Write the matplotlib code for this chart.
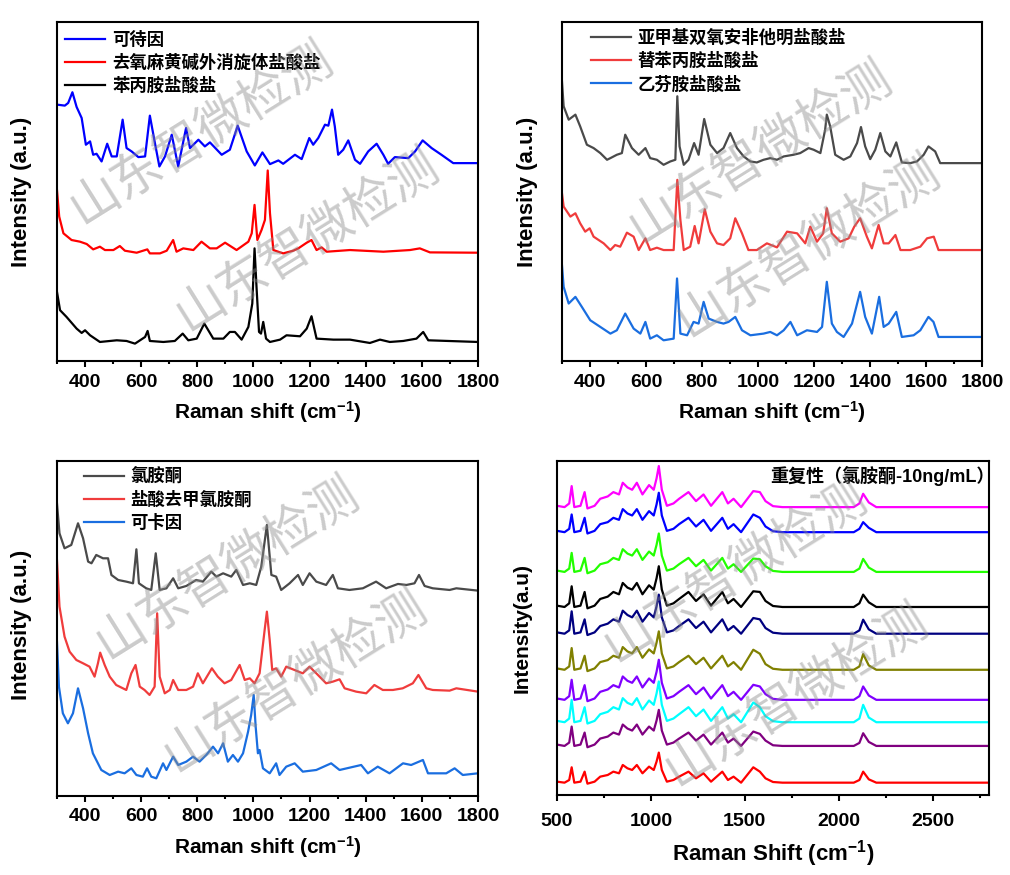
import matplotlib
matplotlib.use('Agg')
import matplotlib.pyplot as plt
from matplotlib.ticker import MultipleLocator

plt.rcParams['font.family'] = ['Liberation Sans', 'Noto Sans CJK SC', 'DejaVu Sans']
plt.rcParams['mathtext.fontset'] = 'custom'
plt.rcParams['mathtext.rm'] = 'Liberation Sans:bold'
plt.rcParams['mathtext.bf'] = 'Liberation Sans:bold'
plt.rcParams['mathtext.default'] = 'bf'

# ---------------- panel 1 data (a.u., offset stacked) ----------------
codeine_x = [300, 328, 340, 355, 370, 388, 403, 418, 429, 441, 459, 479, 495, 513, 534, 548, 566, 590, 614, 631,
             649, 665, 685, 709, 732, 760, 774, 804, 827, 845, 887, 916, 944, 976, 1005, 1032, 1059, 1089, 1106, 1148,
             1172, 1199, 1213, 1231, 1255, 1267, 1280, 1290, 1302, 1320, 1338, 1362, 1380, 1409, 1439, 1463, 1480,
             1504, 1552, 1576, 1603, 1635, 1670, 1712, 1800]
codeine_y = [767, 764, 772, 804, 760, 727, 647, 657, 617, 620, 597, 650, 612, 612, 722, 637, 627, 610, 612, 734,
             652, 582, 612, 677, 582, 697, 637, 662, 642, 654, 617, 632, 704, 627, 585, 624, 589, 600, 590, 617,
             604, 667, 647, 667, 707, 704, 752, 702, 617, 632, 660, 602, 590, 627, 650, 617, 590,
             610, 607, 627, 660, 637, 617, 592, 592]

meth_x = [300, 308, 323, 352, 382, 406, 429, 453, 471, 501, 524, 542, 584, 622, 631, 667, 691, 714, 726, 750,
          786, 815, 845, 869, 899, 940, 982, 994, 1004, 1014, 1029, 1041, 1051, 1059, 1071, 1106, 1142, 1160, 1190,
          1207, 1225, 1243, 1261, 1344, 1463, 1558, 1593, 1629, 1800]
meth_y = [512, 432, 382, 362, 357, 350, 334, 342, 332, 332, 344, 330, 324, 334, 322, 322, 330, 362, 327, 337,
          332, 357, 337, 337, 354, 332, 357, 382, 467, 362, 392, 422, 570, 442, 332, 322, 330, 337, 354,
          362, 332, 340, 327, 332, 327, 332, 337, 325, 324]

amph_x = [300, 311, 334, 370, 388, 400, 418, 453, 513, 548, 578, 614, 623, 631, 679, 720, 748, 768, 798, 825,
          857, 893, 916, 934, 958, 982, 996, 1004, 1011, 1020, 1027, 1035, 1045, 1059, 1095, 1118, 1166, 1190, 1207,
          1225, 1285, 1344, 1415, 1451, 1486, 1534, 1581, 1605, 1623, 1800]
amph_y = [207, 152, 132, 97, 84, 92, 77, 57, 62, 60, 52, 72, 90, 60, 57, 60, 82, 62, 67, 112,
          67, 67, 87, 87, 64, 102, 172, 337, 222, 87, 82, 117, 67, 57, 64, 77, 74, 97, 134,
          67, 64, 64, 54, 64, 57, 60, 67, 87, 62, 57]

# ---------------- panel 2 data ----------------
mdma_x = [300, 306, 324, 348, 365, 389, 413, 437, 461, 473, 496, 514, 526, 550, 574, 598, 615, 639, 663, 687,
          705, 712, 720, 735, 752, 772, 788, 808, 830, 854, 877, 901, 925, 949, 973, 996, 1020, 1044, 1068, 1092,
          1127, 1151, 1181, 1199, 1223, 1240, 1246, 1258, 1276, 1306, 1330, 1354, 1368, 1383, 1401, 1419, 1437,
          1455, 1473, 1494, 1514, 1544, 1568, 1592, 1609, 1633, 1651, 1800]
mdma_y = [837, 762, 722, 737, 702, 647, 637, 622, 602, 607, 617, 622, 677, 637, 617, 637, 607, 602, 587, 597,
          602, 792, 642, 587, 602, 652, 617, 724, 647, 622, 637, 682, 637, 612, 597, 594, 602, 607, 602, 612,
          617, 622, 637, 632, 622, 692, 737, 702, 617, 602, 612, 652, 700, 642, 604, 632, 682,
          627, 612, 654, 594, 592, 597, 617, 642, 627, 592, 592]

mda_x = [300, 306, 330, 348, 365, 383, 399, 413, 449, 473, 490, 508, 532, 556, 574, 598, 615, 639, 663, 699,
         712, 723, 735, 758, 774, 788, 810, 830, 854, 877, 901, 919, 943, 966, 996, 1032, 1068, 1104, 1140, 1169,
         1187, 1211, 1233, 1246, 1264, 1294, 1324, 1344, 1365, 1389, 1407, 1431, 1449, 1467, 1491, 1509, 1544,
         1580, 1604, 1628, 1645, 1800]
mda_y = [502, 462, 432, 442, 412, 387, 397, 372, 352, 332, 347, 342, 384, 372, 332, 367, 332, 339, 332, 332,
         542, 422, 332, 342, 404, 352, 454, 387, 352, 347, 367, 427, 382, 332, 332, 352, 340, 387, 382, 352,
         402, 357, 382, 457, 382, 357, 367, 402, 427, 372, 337, 407, 352, 352, 377, 332, 332,
         342, 367, 372, 332, 332]

mde_x = [300, 306, 324, 348, 371, 401, 437, 473, 496, 526, 556, 580, 598, 615, 639, 663, 699, 711, 723, 747,
         770, 788, 806, 824, 854, 877, 895, 919, 943, 973, 1020, 1044, 1068, 1092, 1116, 1140, 1175, 1211, 1229,
         1246, 1264, 1282, 1306, 1336, 1365, 1383, 1407, 1433, 1449, 1467, 1494, 1514, 1556, 1580, 1609, 1627,
         1645, 1800]
mde_y = [287, 222, 172, 192, 162, 122, 102, 82, 92, 142, 97, 82, 117, 67, 77, 62, 67, 247, 82, 77,
         117, 112, 177, 127, 117, 112, 117, 132, 92, 77, 82, 87, 77, 92, 117, 77, 92, 87, 102,
         237, 112, 87, 72, 112, 207, 132, 82, 192, 102, 112, 147, 72, 77, 92, 132, 117, 72, 72]

# ---------------- panel 3 data ----------------
ket_x = [300, 309, 327, 351, 375, 393, 411, 423, 440, 464, 482, 494, 518, 547, 571, 583, 592, 618, 636, 652,
         666, 690, 714, 732, 761, 796, 820, 850, 868, 892, 921, 939, 963, 987, 1010, 1028, 1048, 1064, 1081, 1099,
         1129, 1159, 1176, 1200, 1224, 1259, 1283, 1301, 1342, 1390, 1437, 1473, 1515, 1545, 1574, 1590, 1610,
         1639, 1699, 1723, 1800]
ket_y = [878, 788, 743, 753, 818, 773, 703, 698, 723, 713, 713, 663, 648, 643, 638, 740, 638, 623, 618, 728,
         618, 623, 653, 623, 630, 648, 643, 673, 658, 668, 658, 678, 633, 638, 633, 688, 813, 663, 658, 618,
         638, 663, 633, 668, 643, 633, 663, 623, 618, 623, 643, 623, 636, 633, 638, 663, 630,
         623, 618, 623, 616]

nket_x = [300, 309, 327, 345, 369, 393, 416, 434, 446, 454, 470, 488, 511, 547, 565, 580, 595, 612, 630, 648,
          657, 666, 684, 702, 714, 732, 761, 785, 802, 820, 852, 873, 897, 921, 951, 969, 987, 1004, 1022, 1040,
          1048, 1058, 1067, 1081, 1099, 1117, 1152, 1176, 1200, 1224, 1259, 1283, 1307, 1325, 1366, 1402, 1431,
          1461, 1497, 1532, 1568, 1588, 1616, 1639, 1699, 1723, 1800]
nket_y = [708, 568, 478, 433, 408, 398, 388, 358, 398, 430, 393, 358, 333, 318, 368, 393, 328, 318, 303, 328,
          548, 358, 308, 318, 348, 318, 318, 328, 368, 338, 383, 358, 338, 348, 393, 348, 353, 338, 368, 498,
          553, 468, 378, 383, 358, 388, 376, 368, 388, 368, 338, 343, 350, 323, 313, 308, 333,
          318, 318, 323, 338, 363, 323, 318, 316, 323, 313]

coc_x = [300, 307, 321, 339, 357, 375, 393, 411, 428, 458, 488, 518, 541, 565, 583, 606, 621, 636, 654, 678,
         690, 714, 732, 761, 785, 808, 832, 856, 874, 892, 909, 927, 945, 963, 981, 992, 1001, 1008, 1016, 1022,
         1034, 1058, 1081, 1093, 1117, 1147, 1176, 1224, 1277, 1307, 1384, 1408, 1443, 1485, 1533, 1562, 1604,
         1622, 1687, 1717, 1746, 1800]
coc_y = [463, 328, 248, 218, 248, 323, 263, 188, 128, 78, 63, 73, 68, 83, 63, 58, 83, 58, 53, 98,
         78, 118, 93, 103, 118, 103, 123, 148, 128, 158, 103, 123, 103, 128, 193, 243, 303, 208, 128, 138,
         83, 68, 98, 63, 88, 98, 73, 78, 98, 78, 93, 68, 88, 68, 98, 93, 108,
         68, 68, 83, 63, 68]

# ---------------- panel 4 data: 10 repeat measurements, top to bottom ----------------
rep_x = [500, 540, 565, 578, 592, 625, 647, 662, 700, 730, 770, 800, 830, 850, 875, 900, 925, 955, 990, 1015,
         1030, 1042, 1058, 1085, 1120, 1150, 1200, 1240, 1280, 1320, 1380, 1410, 1440, 1480, 1545, 1580, 1610,
         1650, 1700, 1900, 2080, 2110, 2130, 2160, 2200, 2500, 2800]
rep1 = [866, 862, 873, 925, 862, 866, 907, 858, 866, 887, 894, 907, 900, 935, 921, 914, 935, 900, 928, 914,
        948, 985, 914, 866, 873, 887, 907, 880, 900, 866, 907, 873, 887, 862, 910, 907, 880, 865, 862, 862,
        862, 873, 902, 876, 862, 862, 862]
rep2 = [791, 787, 797, 840, 787, 791, 830, 783, 791, 811, 817, 830, 824, 856, 843, 837, 856, 824, 850, 837,
        870, 905, 837, 791, 797, 811, 830, 804, 824, 791, 830, 797, 811, 787, 840, 830, 804, 790, 787, 787,
        787, 797, 817, 800, 787, 787, 787]
rep3 = [672, 668, 678, 725, 668, 672, 710, 664, 672, 691, 697, 710, 704, 736, 723, 717, 736, 704, 729, 717,
        749, 783, 717, 672, 678, 691, 710, 685, 704, 672, 710, 678, 691, 668, 708, 706, 685, 671, 668, 668,
        668, 678, 707, 681, 668, 668, 668]
rep4 = [567, 563, 574, 625, 563, 567, 608, 559, 567, 587, 594, 608, 601, 635, 621, 615, 635, 601, 628, 615,
        649, 685, 615, 567, 574, 587, 608, 581, 601, 567, 608, 574, 587, 563, 610, 608, 581, 566, 563, 563,
        563, 574, 600, 577, 563, 563, 563]
rep5 = [487, 483, 493, 550, 483, 487, 526, 479, 487, 506, 513, 526, 519, 552, 539, 532, 552, 519, 545, 532,
        565, 600, 532, 487, 493, 506, 526, 500, 519, 487, 526, 493, 506, 483, 530, 526, 500, 486, 483, 483,
        483, 493, 525, 496, 483, 483, 483]
rep6 = [379, 375, 385, 440, 375, 379, 417, 371, 379, 398, 404, 417, 411, 443, 430, 424, 443, 411, 436, 424,
        456, 490, 424, 379, 385, 398, 417, 392, 411, 379, 417, 385, 398, 375, 435, 423, 392, 378, 375, 375,
        375, 385, 422, 388, 375, 375, 375]
rep7 = [289, 285, 296, 345, 285, 289, 329, 281, 289, 309, 316, 329, 322, 355, 342, 336, 355, 322, 349, 336,
        369, 405, 336, 289, 296, 309, 329, 302, 322, 289, 329, 296, 309, 285, 330, 325, 302, 288, 285, 285,
        285, 296, 325, 298, 285, 285, 285]
rep8 = [222, 218, 229, 285, 218, 222, 263, 214, 222, 242, 249, 263, 256, 290, 276, 270, 290, 256, 283, 270,
        304, 340, 270, 222, 229, 242, 263, 236, 256, 222, 263, 229, 242, 218, 277, 263, 236, 221, 218, 218,
        218, 229, 270, 232, 218, 218, 218]
rep9 = [151, 147, 157, 205, 147, 151, 187, 143, 151, 169, 175, 187, 181, 211, 199, 193, 211, 181, 205, 193,
        223, 255, 193, 151, 157, 169, 187, 163, 181, 151, 187, 157, 169, 147, 190, 183, 163, 149, 147, 147,
        147, 156, 185, 159, 147, 147, 147]
rep10 = [40, 37, 45, 83, 37, 40, 70, 34, 40, 55, 60, 70, 65, 90, 80, 75, 90, 65, 85, 75,
         100, 127, 75, 40, 45, 55, 70, 50, 65, 40, 70, 45, 55, 37, 83, 70, 50, 39, 37, 37,
         37, 45, 70, 47, 37, 37, 37]
rep_colors = ['#ff00ff', '#0000ff', '#22ff00', '#000000', '#000080', '#808000', '#8000ff', '#00ffff',
              '#800080', '#ff0000']

fig = plt.figure(figsize=(10.1, 8.75), dpi=100)
ax1 = fig.add_axes([0.0564, 0.5874, 0.4168, 0.3874])
ax2 = fig.add_axes([0.5564, 0.5874, 0.4158, 0.3874])
ax3 = fig.add_axes([0.0564, 0.0903, 0.4168, 0.3829])
ax4 = fig.add_axes([0.5515, 0.0914, 0.4277, 0.3817])

lw = 1.6
ax1.plot(codeine_x, codeine_y, color='#0000ff', lw=lw, label='可待因')
ax1.plot(meth_x, meth_y, color='#ff0000', lw=lw, label='去氧麻黄碱外消旋体盐酸盐')
ax1.plot(amph_x, amph_y, color='#000000', lw=lw, label='苯丙胺盐酸盐')

ax2.plot(mdma_x, mdma_y, color='#4a4a4a', lw=lw, label='亚甲基双氧安非他明盐酸盐')
ax2.plot(mda_x, mda_y, color='#f03c3c', lw=lw, label='替苯丙胺盐酸盐')
ax2.plot(mde_x, mde_y, color='#1a6ee0', lw=lw, label='乙芬胺盐酸盐')

ax3.plot(ket_x, ket_y, color='#4a4a4a', lw=lw, label='氯胺酮')
ax3.plot(nket_x, nket_y, color='#f03c3c', lw=lw, label='盐酸去甲氯胺酮')
ax3.plot(coc_x, coc_y, color='#1a6ee0', lw=lw, label='可卡因')

for ys, c in zip([rep1, rep2, rep3, rep4, rep5, rep6, rep7, rep8, rep9, rep10], rep_colors):
    ax4.plot(rep_x, ys, color=c, lw=lw)

for ax in [ax1, ax2, ax3]:
    ax.set_xlim(300, 1800)
    ax.xaxis.set_major_locator(MultipleLocator(200))
    ax.xaxis.set_minor_locator(MultipleLocator(100))
ax1.set_ylim(0, 1014)
ax2.set_ylim(0, 1014)
ax3.set_ylim(0, 1005)
ax4.set_xlim(500, 2800)
ax4.set_ylim(0, 1000)
ax4.xaxis.set_major_locator(MultipleLocator(500))
ax4.xaxis.set_minor_locator(MultipleLocator(250))

for ax in [ax1, ax2, ax3, ax4]:
    for s in ax.spines.values():
        s.set_linewidth(1.5)
    ax.set_yticks([])
    ax.tick_params(axis='x', which='major', direction='out', length=4, width=1.5, labelsize=14, pad=5)
    ax.tick_params(axis='x', which='minor', direction='out', length=2.5, width=1.5)
    for t in ax.get_xticklabels():
        t.set_fontweight('bold')
ax4.tick_params(axis='x', which='major', pad=9)

for ax in [ax1, ax2, ax3]:
    ax.set_xlabel('Raman shift (cm$^{-1}$)', fontsize=15, fontweight='bold', labelpad=6)
ax4.set_xlabel('Raman Shift (cm$^{-1}$)', fontsize=16, fontweight='bold', labelpad=6)

ax1.set_ylabel('Intensity (a.u.)', fontsize=16, fontweight='bold')
ax1.yaxis.set_label_coords(-0.059, 0.5)
ax2.set_ylabel('Intensity (a.u.)', fontsize=16, fontweight='bold')
ax2.yaxis.set_label_coords(-0.057, 0.5)
ax3.set_ylabel('Intensity (a.u.)', fontsize=16, fontweight='bold')
ax3.yaxis.set_label_coords(-0.059, 0.51)
ax4.set_ylabel('Intensity(a.u)', fontsize=15, fontweight='bold')
ax4.yaxis.set_label_coords(-0.058, 0.5)

leg_kw = dict(loc='upper left', frameon=False, handlelength=2.3, handletextpad=0.4, labelspacing=0.3,
              borderaxespad=0, borderpad=0.2, prop={'family': ['Noto Sans CJK SC'], 'weight': 'bold', 'size': 12.5})
ax1.legend(bbox_to_anchor=(0.012, 0.985), **leg_kw)
ax2.legend(bbox_to_anchor=(0.06, 0.99), **leg_kw)
ax3.legend(bbox_to_anchor=(0.055, 0.99), **leg_kw)

ax4.text(1.012, 0.955, '重复性（氯胺酮-10ng/mL）', transform=ax4.transAxes, ha='right', va='center',
         fontsize=13, fontweight='bold', family=['Liberation Sans', 'Noto Sans CJK SC'])

# watermark
wm = [(201, 133), (307, 240), (760, 152), (808, 246), (227, 568), (295, 681), (735, 571), (796, 695)]
for px, py in wm:
    fig.text(px / 1010, 1 - py / 875, '山东智微检测', rotation=32, fontsize=36, color='#8c8c8c', alpha=0.45,
             ha='center', va='center', family=['Noto Sans CJK SC'], zorder=20)

fig.savefig('out.png', dpi=100)
